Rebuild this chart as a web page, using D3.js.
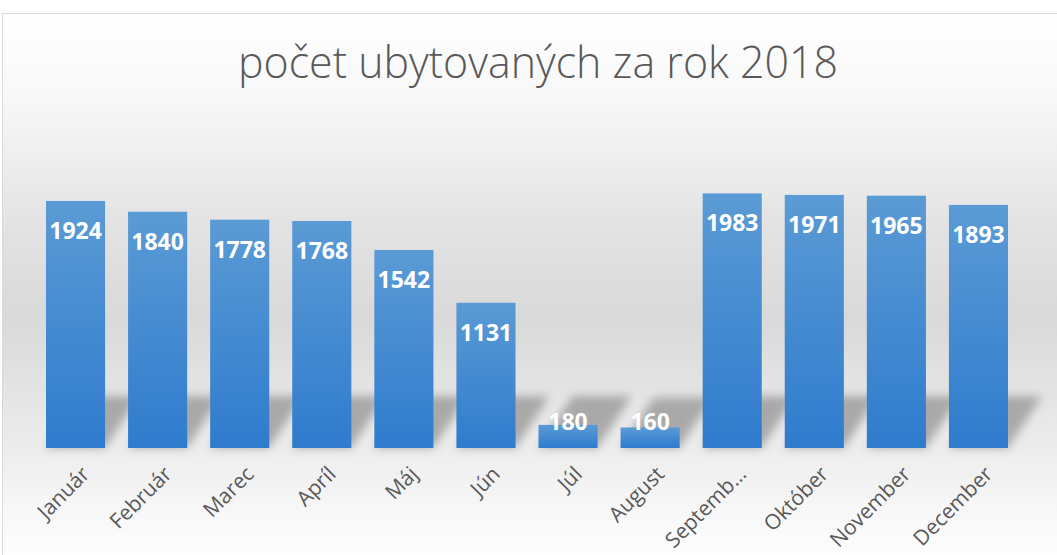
<!DOCTYPE html>
<html>
<head>
<meta charset="utf-8">
<script src="https://cdn.jsdelivr.net/npm/d3@7"></script>
<style>
  body { margin: 0; background: #fff; }
  svg { display: block; }
</style>
</head>
<body>
<div id="chart"></div>
<script>
// Chart data
const months = ['Január', 'Február', 'Marec', 'Apríl', 'Máj', 'Jún', 'Júl', 'August', 'Septemb…', 'Október', 'November', 'December'];
const guests = [1924, 1840, 1778, 1768, 1542, 1131, 180, 160, 1983, 1971, 1965, 1893];
const titleText = 'počet ubytovaných za rok 2018';

const width = 1057, height = 555;
const baseY = 448;

const svg = d3.select('#chart').append('svg')
    .attr('width', width)
    .attr('height', height);

const defs = svg.append('defs');

// Background gradient (white -> gray -> white)
const bg = defs.append('linearGradient')
    .attr('id', 'bg').attr('x1', 0).attr('y1', 0).attr('x2', 0).attr('y2', 1);
[[0, '#ffffff'], [0.15, '#f8f8f8'], [0.38, '#e3e3e3'], [0.55, '#d9d9d9'], [0.78, '#ececec'], [0.9, '#f8f8f8'], [1, '#ffffff']]
    .forEach(([o, c]) => bg.append('stop').attr('offset', o).attr('stop-color', c));

// Bar gradient
const barGrad = defs.append('linearGradient')
    .attr('id', 'barGrad').attr('x1', 0).attr('y1', 0).attr('x2', 0).attr('y2', 1);
barGrad.append('stop').attr('offset', 0).attr('stop-color', '#5b9bd5');
barGrad.append('stop').attr('offset', 1).attr('stop-color', '#2f7bcd');

// Shadow blur
defs.append('filter').attr('id', 'blur')
    .attr('x', '-50%').attr('y', '-50%').attr('width', '200%').attr('height', '200%')
    .append('feGaussianBlur').attr('stdDeviation', 5);

svg.append('rect')
    .attr('x', 2.5).attr('y', 13.5)
    .attr('width', width).attr('height', height)
    .attr('fill', 'url(#bg)')
    .attr('stroke', '#d9d9d9');

// Title
svg.append('text')
    .attr('x', 538).attr('y', 78)
    .attr('text-anchor', 'middle')
    .attr('textLength', 600)
    .attr('lengthAdjust', 'spacingAndGlyphs')
    .style('font-family', '"Open Sans", sans-serif')
    .style('font-weight', 300)
    .style('font-size', '45px')
    .style('fill', '#595959')
    .text(titleText);

// Scales
const x = d3.scaleBand()
    .domain(months)
    .range([34.5, 1019.5])
    .paddingInner(0.28)
    .paddingOuter(0.14);

const y = d3.scaleLinear()
    .domain([0, 2000])
    .range([baseY, baseY - 256.8]);

const data = months.map((m, i) => ({month: m, value: guests[i]}));

// Perspective shadows behind the bars
const shadowH = 52, shadowDx = 34;
svg.append('g').selectAll('path')
    .data(data)
    .join('path')
    .attr('d', d => {
        const x0 = x(d.month), x1 = x0 + x.bandwidth();
        const h = Math.min(shadowH, baseY - y(d.value) + 30);
        const dx = shadowDx * h / shadowH;
        return `M${x0},${baseY} L${x1},${baseY} L${x1 + dx},${baseY - h} L${x0 + dx},${baseY - h} Z`;
    })
    .attr('fill', '#888888')
    .attr('opacity', 0.65)
    .attr('filter', 'url(#blur)');

// Bars
svg.append('g').selectAll('rect')
    .data(data)
    .join('rect')
    .attr('x', d => x(d.month))
    .attr('y', d => y(d.value))
    .attr('width', x.bandwidth())
    .attr('height', d => baseY - y(d.value))
    .attr('fill', 'url(#barGrad)');

// Value labels
svg.append('g').selectAll('text')
    .data(data)
    .join('text')
    .attr('x', d => x(d.month) + x.bandwidth() / 2)
    .attr('y', d => Math.min(y(d.value) + 38, baseY - 18))
    .attr('text-anchor', 'middle')
    .style('font-family', '"Open Sans", sans-serif')
    .style('font-weight', 700)
    .style('font-size', '23px')
    .style('fill', '#ffffff')
    .text(d => d.value);

// Category labels (rotated)
svg.append('g').selectAll('text')
    .data(months)
    .join('text')
    .attr('transform', d => `translate(${x(d) + x.bandwidth() / 2 + 5},${baseY + 17}) rotate(-45)`)
    .attr('text-anchor', 'end')
    .attr('dy', '0.7em')
    .style('font-family', '"Open Sans", sans-serif')
    .style('font-size', '21px')
    .style('fill', '#595959')
    .text(d => d);
</script>
</body>
</html>
